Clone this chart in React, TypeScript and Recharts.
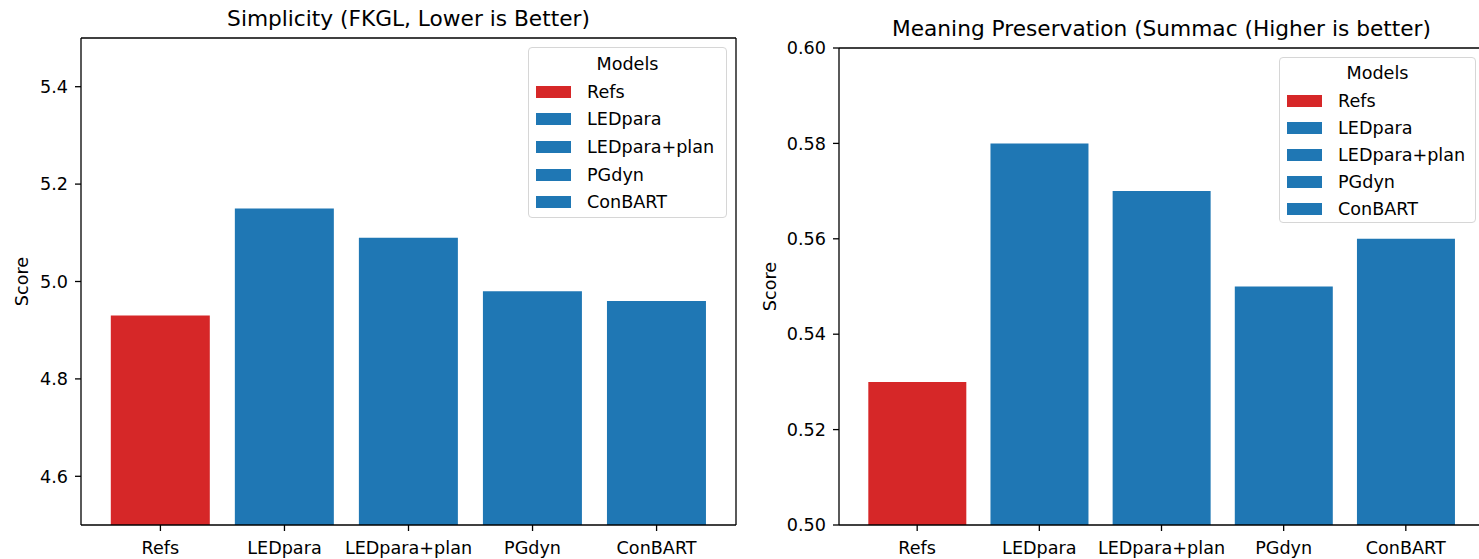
import { BarChart, Bar, Cell, XAxis, YAxis, Legend } from "recharts";

const models = ["Refs", "LEDpara", "LEDpara+plan", "PGdyn", "ConBART"];
const fkglScores = [4.93, 5.15, 5.09, 4.98, 4.96];
const summacScores = [0.53, 0.58, 0.57, 0.55, 0.56];
const fkglTicks = [4.6, 4.8, 5.0, 5.2, 5.4];
const summacTicks = [0.5, 0.52, 0.54, 0.56, 0.58, 0.6];
const fkglDomain = [4.5, 5.5];
const summacDomain = [0.5, 0.6];

const RED = "#d62728";
const BLUE = "#1f77b4";
const FONT = "'DejaVu Sans', sans-serif";
const TICK_FONT = 17.6;

const colorFor = (name: string) => (name === "Refs" ? RED : BLUE);

function ScoreLabel({ viewBox, cx }: { viewBox?: any; cx: number }) {
  const x = (viewBox?.x ?? 0) + cx;
  const y = (viewBox?.y ?? 0) + (viewBox?.height ?? 0) / 2;
  return (
    <text
      x={x}
      y={y}
      transform={`rotate(-90, ${x}, ${y})`}
      textAnchor="middle"
      dominantBaseline="central"
      fontSize={TICK_FONT}
      fill="#000"
    >
      Score
    </text>
  );
}

function ModelsLegend({ padTop, rowHeight }: { padTop: number; rowHeight: number }) {
  return (
    <div
      style={{
        boxSizing: "border-box",
        width: "100%",
        height: "100%",
        border: "1.3px solid #d6d6d6",
        borderRadius: 4,
        background: "rgba(255,255,255,0.8)",
        paddingTop: padTop,
        fontSize: TICK_FONT,
        color: "#000",
        fontFamily: FONT,
      }}
    >
      <div style={{ height: 28, lineHeight: "28px", textAlign: "center" }}>Models</div>
      {models.map((m) => (
        <div
          key={m}
          style={{ height: rowHeight, display: "flex", alignItems: "center", whiteSpace: "nowrap" }}
        >
          <span
            style={{
              display: "inline-block",
              width: 35,
              height: 12,
              marginLeft: 7,
              marginRight: 16,
              background: colorFor(m),
            }}
          />
          <span>{m}</span>
        </div>
      ))}
    </div>
  );
}

interface PanelProps {
  title: string;
  values: number[];
  ticks: number[];
  domain: number[];
  digits: number;
  top: number;
  plotWidth: number;
  pad: number;
  labelX: number;
  legendBox: { left: number; top: number; width: number; height: number };
  legendPadTop: number;
  legendRow: number;
}

function Panel({
  title,
  values,
  ticks,
  domain,
  digits,
  top,
  plotWidth,
  pad,
  labelX,
  legendBox,
  legendPadTop,
  legendRow,
}: PanelProps) {
  const data = models.map((m, i) => ({ model: m, score: values[i] }));
  const axisStroke = { stroke: "#000", strokeWidth: 1.3 };
  return (
    <BarChart
      width={81 + plotWidth + 4}
      height={559}
      data={data}
      margin={{ top: top - 1, right: 3, bottom: 0, left: 0 }}
      barCategoryGap="10%"
    >
      <XAxis
        xAxisId="bottom"
        dataKey="model"
        height={34}
        interval={0}
        padding={{ left: pad, right: pad }}
        tick={{ fontSize: TICK_FONT, fill: "#000" }}
        tickSize={6}
        tickMargin={11}
        axisLine={axisStroke}
        tickLine={axisStroke}
      />
      <XAxis
        xAxisId="top"
        orientation="top"
        dataKey="model"
        height={1}
        tick={false}
        tickLine={false}
        axisLine={axisStroke}
        label={{ value: title, position: "top", offset: 11, fontSize: 21.7, fill: "#000" }}
      />
      <YAxis
        yAxisId="left"
        width={81}
        domain={domain}
        ticks={ticks}
        allowDataOverflow
        tickFormatter={(v: number) => v.toFixed(digits)}
        tick={{ fontSize: TICK_FONT, fill: "#000" }}
        tickSize={6}
        tickMargin={7}
        axisLine={axisStroke}
        tickLine={axisStroke}
        label={<ScoreLabel cx={labelX} />}
      />
      <YAxis
        yAxisId="right"
        orientation="right"
        width={1}
        domain={domain}
        tick={false}
        tickLine={false}
        axisLine={axisStroke}
      />
      <Legend
        layout="vertical"
        align="center"
        verticalAlign="middle"
        wrapperStyle={{ ...legendBox }}
        content={() => <ModelsLegend padTop={legendPadTop} rowHeight={legendRow} />}
      />
      <Bar xAxisId="bottom" yAxisId="left" dataKey="score" isAnimationActive={false}>
        {data.map((d) => (
          <Cell key={d.model} fill={colorFor(d.model)} />
        ))}
      </Bar>
    </BarChart>
  );
}

export default function App() {
  return (
    <div
      style={{
        position: "absolute",
        left: 0,
        top: 0,
        width: 1479,
        height: 559,
        overflow: "hidden",
        background: "#fff",
        fontFamily: FONT,
      }}
    >
      <div style={{ position: "absolute", left: 0, top: 0 }}>
        <Panel
          title="Simplicity (FKGL, Lower is Better)"
          values={fkglScores}
          ticks={fkglTicks}
          domain={fkglDomain}
          digits={1}
          top={38}
          plotWidth={655}
          pad={17.4}
          labelX={21.5}
          legendBox={{ left: 528, top: 47, width: 199, height: 171 }}
          legendPadTop={2}
          legendRow={27.6}
        />
      </div>
      <div style={{ position: "absolute", left: 758, top: 0 }}>
        <Panel
          title="Meaning Preservation (Summac (Higher is better)"
          values={summacScores}
          ticks={summacTicks}
          domain={summacDomain}
          digits={2}
          top={48}
          plotWidth={645}
          pad={17.1}
          labelX={12}
          legendBox={{ left: 521, top: 57, width: 197, height: 166 }}
          legendPadTop={1}
          legendRow={27.2}
        />
      </div>
    </div>
  );
}
